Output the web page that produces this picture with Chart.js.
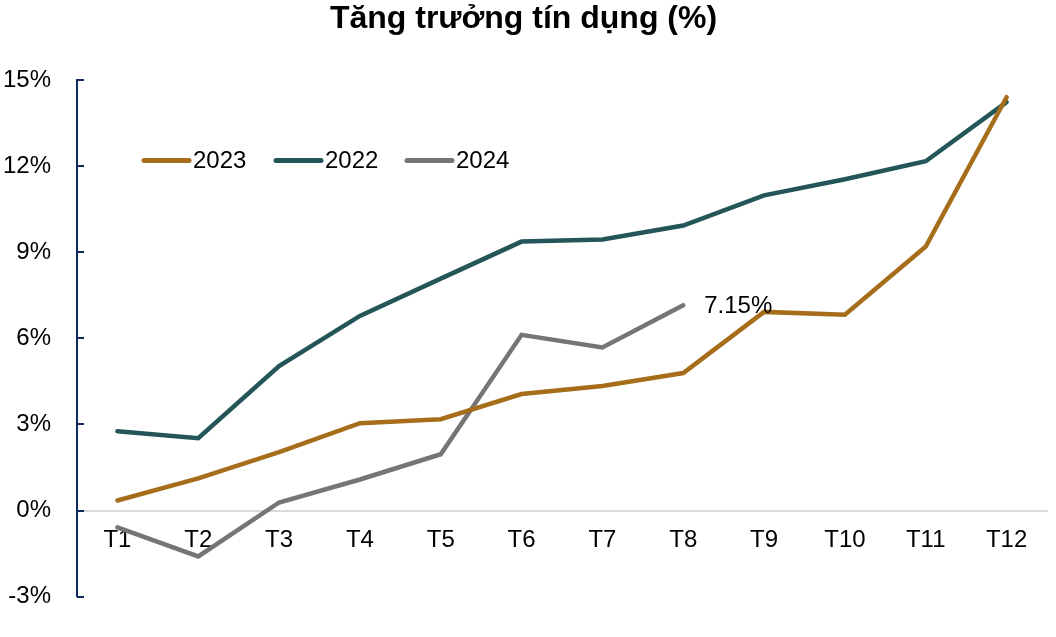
<!DOCTYPE html>
<html>
<head>
<meta charset="utf-8">
<script src="https://cdn.jsdelivr.net/npm/chart.js@4"></script>
<style>
html,body{margin:0;padding:0;background:#fff;}
#wrap{width:1056px;height:637px;}
</style>
</head>
<body>
<div id="wrap"><canvas id="c" width="1056" height="637"></canvas></div>
<script>
const title = 'Tăng trưởng tín dụng (%)';
const months = ['T1','T2','T3','T4','T5','T6','T7','T8','T9','T10','T11','T12'];
const s2023 = [0.35, 1.12, 2.03, 3.04, 3.18, 4.06, 4.34, 4.79, 6.92, 6.82, 9.20, 14.40];
const s2022 = [2.76, 2.52, 5.03, 6.78, 8.08, 9.37, 9.44, 9.93, 10.98, 11.54, 12.17, 14.23];
const s2024 = [-0.59, -1.60, 0.28, 1.08, 1.96, 6.12, 5.68, 7.15, null, null, null, null];
const yTicks = [-3, 0, 3, 6, 9, 12, 15];
const lastLabel = '7.15%';

const FONT = "'Liberation Sans', Arial, sans-serif";

const legendPlugin = {
  id: 'customLegend',
  afterDraw(chart) {
    const ctx = chart.ctx;
    const starts = [142, 274, 405];
    const y = 160.5;
    ctx.save();
    chart.data.datasets.forEach((ds, i) => {
      const x = starts[i];
      ctx.strokeStyle = ds.borderColor;
      ctx.lineWidth = 5;
      ctx.lineCap = 'round';
      ctx.beginPath();
      ctx.moveTo(x + 2, y);
      ctx.lineTo(x + 47, y);
      ctx.stroke();
      ctx.fillStyle = '#000';
      ctx.font = '24px ' + FONT;
      ctx.textBaseline = 'middle';
      ctx.textAlign = 'left';
      ctx.fillText(ds.label, x + 51, y + 1);
    });
    ctx.restore();
  }
};

const axisTicksPlugin = {
  id: 'axisTicks',
  afterDraw(chart) {
    const ctx = chart.ctx;
    const ys = chart.scales.y;
    ctx.save();
    ctx.strokeStyle = '#0E2A5E';
    ctx.lineWidth = 2;
    yTicks.forEach(v => {
      const py = Math.round(ys.getPixelForValue(v));
      ctx.beginPath();
      ctx.moveTo(ys.right, py);
      ctx.lineTo(ys.right + 7, py);
      ctx.stroke();
    });
    const meta = chart.getDatasetMeta(2);
    let idx = -1;
    s2024.forEach((v, i) => { if (v !== null) idx = i; });
    const pt = meta.data[idx];
    ctx.fillStyle = '#000';
    ctx.font = '24px ' + FONT;
    ctx.textBaseline = 'middle';
    ctx.textAlign = 'left';
    ctx.fillText(lastLabel, pt.x + 21, pt.y + 1);
    ctx.restore();
  }
};

new Chart(document.getElementById('c'), {
  type: 'line',
  data: {
    labels: months,
    datasets: [
      {label: '2023', data: s2023, borderColor: '#A66E1B', backgroundColor: '#A66E1B'},
      {label: '2022', data: s2022, borderColor: '#235559', backgroundColor: '#235559'},
      {label: '2024', data: s2024, borderColor: '#757575', backgroundColor: '#757575'}
    ]
  },
  options: {
    responsive: false,
    animation: false,
    events: [],
    layout: {padding: {top: 0, right: 9, bottom: 33, left: 0}},
    elements: {
      line: {borderWidth: 4.5, tension: 0, borderCapStyle: 'round', borderJoinStyle: 'miter'},
      point: {radius: 0}
    },
    plugins: {
      legend: {display: false},
      tooltip: {enabled: false},
      title: {
        display: true,
        text: title,
        color: '#000',
        font: {family: FONT, size: 32, weight: 'bold'},
        padding: {top: 0, bottom: 41.6}
      }
    },
    scales: {
      x: {
        position: {y: 0},
        offset: true,
        grid: {display: false, drawTicks: false},
        border: {display: true, color: '#D9D9D9', width: 2},
        ticks: {color: '#000', font: {family: FONT, size: 24}, padding: 15, maxRotation: 0, autoSkip: false}
      },
      y: {
        min: -3, max: 15,
        afterBuildTicks(scale) { scale.ticks = yTicks.map(v => ({value: v})); },
        afterFit(scale) { scale.width = 77; },
        grid: {display: false, drawTicks: false},
        border: {display: true, color: '#0E2A5E', width: 2},
        ticks: {color: '#000', font: {family: FONT, size: 24}, padding: 26, callback: v => v + '%'}
      }
    }
  },
  plugins: [legendPlugin, axisTicksPlugin]
});
</script>
</body>
</html>
